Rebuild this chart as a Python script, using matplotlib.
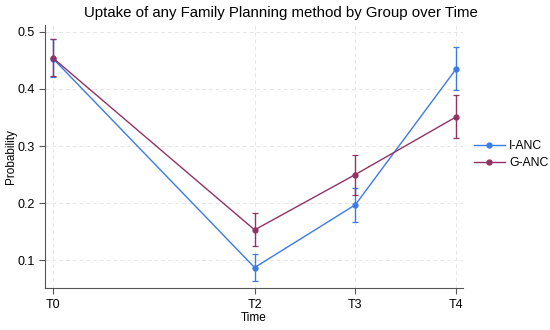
import matplotlib
matplotlib.use("Agg")
import matplotlib.pyplot as plt

plt.rcParams['font.family'] = ['Liberation Sans', 'DejaVu Sans']

# time points (T1 missing, so positions keep the gap)
time_pos = [0, 2, 3, 4]
time_labels = ['T0', 'T2', 'T3', 'T4']

# I-ANC
i_anc = [0.453, 0.087, 0.197, 0.435]
i_anc_lo = [0.421, 0.064, 0.167, 0.399]
i_anc_hi = [0.487, 0.110, 0.226, 0.473]

# G-ANC
g_anc = [0.454, 0.153, 0.250, 0.351]
g_anc_lo = [0.422, 0.124, 0.215, 0.314]
g_anc_hi = [0.488, 0.182, 0.284, 0.389]

blue = '#3b7be3'
maroon = '#923263'

fig = plt.figure(figsize=(5.5, 3.3), dpi=100)
ax = fig.add_axes([0.082, 0.127, 0.76, 0.797])

for vals, lo, hi, col, lab in [(i_anc, i_anc_lo, i_anc_hi, blue, 'I-ANC'),
                               (g_anc, g_anc_lo, g_anc_hi, maroon, 'G-ANC')]:
    err = [[v - l for v, l in zip(vals, lo)], [h - v for v, h in zip(vals, hi)]]
    ax.errorbar(time_pos, vals, yerr=err, fmt='none', ecolor=col,
                elinewidth=1.0, capsize=2.5, capthick=0.9)
    ax.plot(time_pos, vals, '-o', color=col, lw=1.0, ms=3.5, label=lab)

ax.set_xlim(-0.08, 4.07)
ax.set_ylim(0.051, 0.512)
ax.set_xticks(time_pos)
ax.set_xticklabels(time_labels)
ax.set_yticks([0.1, 0.2, 0.3, 0.4, 0.5])
ax.set_yticklabels(['0.1', '0.2', '0.3', '0.4', '0.5'])
ax.tick_params(labelsize=9, length=4, width=0.8, colors='#555555', labelcolor='black')

ax.grid(True, ls=(0, (4, 3)), color='#e6e6e6', lw=0.7)
ax.set_axisbelow(True)
for s in ['top', 'right']:
    ax.spines[s].set_visible(False)
for s in ['left', 'bottom']:
    ax.spines[s].set_color('#555555')
    ax.spines[s].set_linewidth(0.8)

ax.set_xlabel('Time', fontsize=8.5, labelpad=1)
ax.set_ylabel('Probability', fontsize=8.5, labelpad=0.5)

fig.text(0.51, 0.962, 'Uptake of any Family Planning method by Group over Time',
         ha='center', va='center', fontsize=10.8)

fig.legend(loc='center left', bbox_to_anchor=(0.842, 0.531), frameon=False,
           fontsize=8.8, handlelength=2.5, handletextpad=0.35, labelspacing=0.4)

fig.savefig('out.png', dpi=100, facecolor='white')
